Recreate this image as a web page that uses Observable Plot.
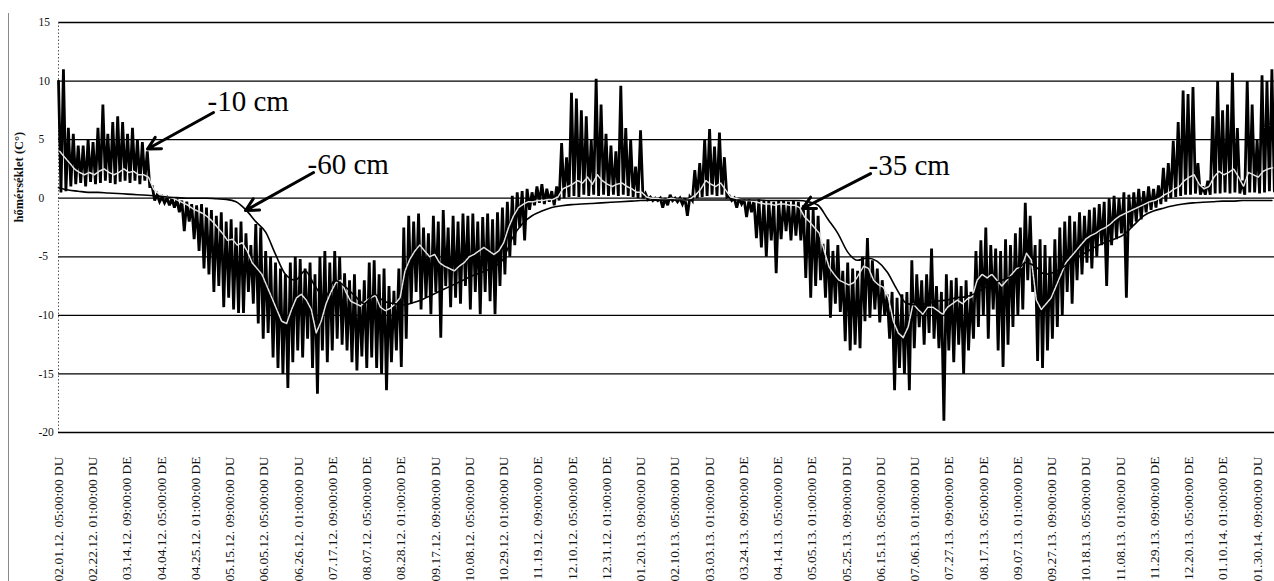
<!DOCTYPE html>
<html>
<head>
<meta charset="utf-8">
<script src="https://cdn.jsdelivr.net/npm/d3@7"></script>
<script src="https://cdn.jsdelivr.net/npm/@observablehq/plot@0.6"></script>
<style>
  body { margin: 0; background: #fff; }
  #wrap { position: relative; width: 1274px; height: 581px; overflow: hidden; }
  #edge { position: absolute; left: 8px; top: 13px; width: 1px; bottom: 0; background: #8a8a8a; }
  #chart { position: absolute; left: 0; top: 0; }
  #chart svg, #chart svg text { font-family: "Liberation Serif", "Times New Roman", "DejaVu Serif", serif !important; }
</style>
</head>
<body>
<div id="wrap"><div id="edge"></div><div id="chart"></div></div>
<script>
// Soil temperature at three depths, sampled every 72 hours (hi/lo swing of the -10 cm probe).
const stepHours = 72;
const tickStepHours = 500;

const tickLabels = [
  "02.01.12. 05:00:00 DU", "02.22.12. 01:00:00 DU", "03.14.12. 09:00:00 DE", "04.04.12. 05:00:00 DE",
  "04.25.12. 01:00:00 DE", "05.15.12. 09:00:00 DU", "06.05.12. 05:00:00 DU", "06.26.12. 01:00:00 DU",
  "07.17.12. 09:00:00 DE", "08.07.12. 05:00:00 DE", "08.28.12. 01:00:00 DE", "09.17.12. 09:00:00 DU",
  "10.08.12. 05:00:00 DU", "10.29.12. 01:00:00 DU", "11.19.12. 09:00:00 DE", "12.10.12. 05:00:00 DE",
  "12.31.12. 01:00:00 DE", "01.20.13. 09:00:00 DU", "02.10.13. 05:00:00 DU", "03.03.13. 01:00:00 DU",
  "03.24.13. 09:00:00 DE", "04.14.13. 05:00:00 DE", "05.05.13. 01:00:00 DE", "05.25.13. 09:00:00 DU",
  "06.15.13. 05:00:00 DU", "07.06.13. 01:00:00 DU", "07.27.13. 09:00:00 DE", "08.17.13. 05:00:00 DE",
  "09.07.13. 01:00:00 DE", "09.27.13. 09:00:00 DU", "10.18.13. 05:00:00 DU", "11.08.13. 01:00:00 DU",
  "11.29.13. 09:00:00 DE", "12.20.13. 05:00:00 DE", "01.10.14. 01:00:00 DE", "01.30.14. 09:00:00 DU"
];

const yTicks = [-20, -15, -10, -5, 0, 5, 10, 15];

// -10 cm: upper values of each 72 h window
const hi10 = [
  10, 11, 6, 5.5, 4.5, 4.5, 5, 4.8, 6, 8,
  5.5, 6.5, 7, 6.5, 5.5, 6, 5, 4.8, 4, 1,
  0.3, 0.1, 0, 0, -0.1, -0.2, -0.3, -0.5, -0.6, -0.5,
  -0.8, -1, -1.5, -1.2, -2, -1.8, -2.5, -2, -3, -4,
  -2.2, -2.5, -4.5, -5, -5.5, -6, -6.5, -5.5, -5, -5.2,
  -6, -5.5, -6.5, -5, -4.5, -5.5, -4.5, -5, -6.4, -7,
  -6.5, -7.8, -7, -5.5, -5.3, -6.5, -6, -7.5, -7.9, -6,
  -2.5, -1.5, -2, -1.3, -2.5, -3, -1.5, -2, -1, -2.5,
  -1.5, -2, -1.3, -1.5, -1.3, -2, -1.6, -1.3, -1.8, -1.2,
  -0.8, -0.3, 0.2, 0.5, 0.6, 0.8, 0.5, 1, 1.2, 0.8,
  0.6, 1, 4.7, 3.5, 9, 8.5, 7.5, 7, 5, 10.2,
  8, 5.5, 4.5, 4, 9.6, 6, 5, 2.7, 5.8, 0.4,
  0.1, 0, 0, 0, 0.3, 0, 0, 0, 0.1, 2.4,
  3, 5, 5.9, 4.4, 5.6, 3.5, 0.2, 0, 0, -0.1,
  -0.1, -0.2, -0.1, -0.2, -0.2, -0.3, -0.2, -0.2, -0.3, -0.2,
  -0.3, -0.6, -0.8, -1, -1.5, -3.9, -3.5, -4.5, -4, -6.2,
  -5.5, -6, -6.2, -5, -3.4, -5.3, -6, -7, -8.2, -8,
  -8.5, -8.2, -8, -5.3, -6.5, -7, -6.5, -4.3, -7.5, -8,
  -6.5, -7, -6.8, -7.5, -7, -8, -4.5, -3.6, -2.5, -4,
  -4.3, -4.5, -3.5, -4, -3, -2.5, -0.4, -1.5, -4, -3.5,
  -4, -5, -3.5, -2.5, -2, -1.5, -2, -1.2, -1.5, -1,
  -0.8, -0.5, -0.3, 0, 0.2, 0, 0.5, 0.3, 0.5, 0.8,
  0.6, 1, 0.8, 1.1, 2.6, 3, 4.9, 6.5, 9.2, 8.9,
  9.5, 3, 1, 1.5, 7, 10, 7.5, 8, 10.7, 6,
  1.5, 10, 8, 5, 10.5, 10, 11
];

// -10 cm: lower values of each 72 h window
const lo10 = [
  0.5, 0.6, 1, 1.2, 1.3, 1, 1.4, 1.2, 1.3, 1.5,
  1.3, 1.2, 1.4, 1.5, 1.3, 1.5, 1.2, 1.5, 1, -0.2,
  -0.3, -0.4, -0.6, -0.8, -1.2, -2.8, -2, -3.5, -4.5, -6,
  -6.5, -8, -7.5, -9.3, -8.5, -9.5, -9.8, -9.8, -8, -9,
  -10.7, -12, -11.5, -13.6, -14.5, -15, -16.2, -14, -13, -13.6,
  -12, -14.5, -16.7, -13, -14, -13, -12, -12.5, -13, -14,
  -14.7, -13.5, -14.5, -13.6, -14.5, -15, -16.4, -14, -13, -14.4,
  -12, -9, -8, -9.5, -8.5, -9.9, -8, -11.9, -7.5, -9.3,
  -8.5, -9, -7.5, -9.5, -8, -9.9, -8, -8.8, -9.9, -7.5,
  -6.5, -5, -4, -2.5, -3.6, -1, -0.6, -0.4, -0.5, -0.3,
  -0.6, -0.2, 0, 0.1, 0.2, 0.1, 0.3, 0.2, 0.3, 0.2,
  0.3, 0.2, 0.3, 0.2, 0.3, 0.2, 0.1, 0, 0, -0.1,
  -0.2, -0.2, -0.8, -0.6, -0.2, -0.3, -0.5, -1.5, -0.2, 0,
  0.1, 0.2, 0.3, 0.2, 0.3, 0.1, -0.2, -0.8, -0.5, -1.6,
  -1.2, -3.4, -4.2, -5, -3.6, -6.4, -3.5, -2.8, -3.6, -3.2,
  -3.6, -6.8, -8.5, -7.5, -7, -8.5, -10.2, -9, -9.7, -12.2,
  -13, -12.5, -12.8, -10.5, -10.2, -9.5, -10.6, -10, -12, -16.4,
  -14.5, -15, -16.4, -12.8, -11, -12.5, -11.5, -12, -12.8, -19,
  -13, -14, -12.5, -15, -13, -12, -11, -10, -12, -9.5,
  -13, -14.4, -12.5, -11, -10, -9.5, -7, -8, -13.9, -14.5,
  -13, -12, -11, -10, -8, -9, -7, -6.5, -5.5, -6,
  -5, -4, -7.5, -4, -3.5, -3, -8.5, -2.5, -2, -1.8,
  -1.2, -1, -0.8, -0.5, -0.3, 0, 0.1, 0.2, 0.3, 0.3,
  0.4, 0.3, 0.3, 0.3, 0.4, 0.4, 0.5, 0.4, 0.5, 0.4,
  0.3, 0.5, 0.5, 0.4, 0.5, 0.6, 0.6
];

// -35 cm, one value per 72 h window
const mid35 = [
  4, 3.5, 3, 2.5, 2.2, 2, 2.2, 2, 2.3, 2.5,
  2.2, 2, 2.2, 2.5, 2.2, 2.3, 2, 2, 1.8, 0.8,
  0.4, 0.2, 0.1, 0, -0.2, -0.4, -0.6, -0.9, -1.1, -1.3,
  -1.6, -2, -2.5, -3, -3.6, -3.5, -4, -3.8, -4.5, -5.5,
  -6, -6.5, -7.5, -8.5, -9.5, -10.5, -10.7, -9.5, -8.5, -8.2,
  -8.7, -9.5, -11.5, -10.5, -9, -8, -7.2, -7, -8, -8.8,
  -9, -9.2, -8.8, -8.5, -8.3, -9.3, -9.6, -9.4, -9, -8.5,
  -6.2, -5.2, -4.5, -4, -4.5, -5, -4.8, -5.5, -5.8, -6,
  -6.2, -5.8, -5.5, -5, -4.8, -4.5, -4.2, -4.5, -4.8, -4.5,
  -3.8, -2.5, -1.5, -0.8, -0.5, -0.3, -0.3, -0.2, -0.2, -0.1,
  -0.1, 0.1, 0.8, 1, 1.2, 1.5, 1.3, 1.8, 1.2, 2,
  1.5, 1.2, 1, 1.2, 1.3, 1, 0.8, 0.5, 0.5, 0.1,
  0, 0, -0.1, -0.1, 0, -0.1, -0.1, -0.2, 0, 0.3,
  0.8, 1.5, 1.2, 1, 1.3, 0.7, 0.1, 0, -0.1, -0.2,
  -0.2, -0.3, -0.4, -0.5, -0.5, -0.6, -0.5, -0.5, -0.6, -0.6,
  -0.8, -1.6, -2, -2.5, -3, -4.5, -5.9, -6.5, -7, -7.2,
  -7.4, -7.2, -6.5, -5.8, -6, -7, -7.4, -7.6, -8.5, -10.5,
  -11.5, -11.9, -11, -9, -9.5, -9.9, -9.3, -9.3, -9.6, -9.9,
  -9.3, -9, -8.7, -9, -8.6, -8.4, -7, -6.5, -6.8, -6.5,
  -7, -7.5, -7, -6.5, -6, -5.9, -4.7, -5.3, -8.7, -9.5,
  -9, -8.5, -7.5, -6.5, -5.5, -5, -4.5, -4, -3.5, -3.2,
  -3, -2.7, -2.5, -2.2, -1.8, -1.5, -1.3, -1.1, -0.9, -0.7,
  -0.5, -0.3, -0.2, 0, 0.3, 0.5, 0.8, 1, 1.5, 1.8,
  2, 1.2, 0.8, 1, 1.8, 2.3, 2, 2.2, 2.5, 1.8,
  1, 2.2, 2, 1.8, 2.3, 2.5, 2.6
];

// -60 cm, one value per 144 h
const line60 = [
  0.9, 0.7, 0.6, 0.5, 0.5, 0.45, 0.4, 0.35, 0.3, 0.25,
  0.2, 0.1, 0.05, 0, 0, 0, -0.05, -0.1, -0.3, -1,
  -2, -2.9, -4.8, -6.5, -7, -6.2, -7.5, -8.5, -7, -7.5,
  -8.3, -9, -8.2, -8.8, -9, -9.1, -8.9, -8.6, -8.2, -7.8,
  -7.4, -7, -6.6, -6.3, -5.9, -5.3, -3.4, -2.2, -1.5, -1.1,
  -0.8, -0.65, -0.55, -0.5, -0.45, -0.4, -0.35, -0.3, -0.25, -0.2,
  -0.18, -0.16, -0.15, -0.15, -0.15, -0.15, -0.15, -0.15, -0.15, -0.15,
  -0.15, -0.15, -0.2, -0.2, -0.2, -0.2, -0.3, -0.6, -1.8, -3,
  -4.6, -5.3, -5.1, -5.4, -6.3, -7.8, -9, -9.1, -9, -8.8,
  -8.7, -8.5, -8.4, -8.1, -7.6, -7.2, -6.9, -6.5, -5.5, -5.8,
  -6.5, -6.3, -5.8, -5.2, -4.7, -4.2, -3.8, -3.5, -3.1, -2.3,
  -1.5, -1.1, -0.85, -0.65, -0.5, -0.4, -0.35, -0.3, -0.25, -0.25,
  -0.2, -0.2, -0.2, -0.2
];

// Callouts: label, text anchor (hours, °C) and arrow from/to (hours, °C)
const calloutLabels = ["-10 cm", "-60 cm", "-35 cm"];
const calloutText = [[2175, 8.27], [3635, 2.9], [11825, 2.8]];
const calloutArrow = [
  [2263, 7.32, 1299, 4.2],
  [3723, 2.19, 2730, -1.05],
  [11854, 2.1, 10861, -0.88]
];

// Build the mark tables
const series10 = hi10.flatMap((h, i) => [
  {t: i * stepHours, v: h},
  {t: i * stepHours + stepHours / 2, v: lo10[i]}
]);
const series35 = mid35.map((v, i) => ({t: i * stepHours + stepHours / 4, v}));
const series60 = line60.map((v, i) => ({t: i * stepHours * 2, v}));
const xTicks = tickLabels.map((_, i) => i * tickStepHours);
const callouts = calloutLabels.map((label, i) => ({
  label,
  tx: calloutText[i][0], ty: calloutText[i][1],
  x1: calloutArrow[i][0], y1: calloutArrow[i][1],
  x2: calloutArrow[i][2], y2: calloutArrow[i][3]
}));

const serif = "Liberation Serif";

const chart = Plot.plot({
  width: 1274,
  height: 640,
  marginLeft: 58,
  marginRight: 0,
  marginTop: 22,
  marginBottom: 208,
  style: {fontFamily: serif, background: "transparent", color: "#111", overflow: "visible"},
  x: {domain: [0, 17750], axis: null},
  y: {domain: [-20, 15], axis: null},
  marks: [
    Plot.ruleY(yTicks, {stroke: "#000", strokeWidth: 1.3}),
    Plot.ruleX([0], {stroke: "#555", strokeWidth: 1, strokeDasharray: "1.5,2"}),
    // -10 cm: raw daily swings
    Plot.line(series10, {x: "t", y: "v", stroke: "#000", strokeWidth: 2.8, strokeLinejoin: "miter", strokeMiterlimit: 3}),
    // -35 cm
    Plot.line(series35, {x: "t", y: "v", stroke: "#e4e4e4", strokeWidth: 1.5, strokeDasharray: "3,1"}),
    // -60 cm
    Plot.line(series60, {x: "t", y: "v", stroke: "#000", strokeWidth: 1.6, curve: "monotone-x"}),
    Plot.axisX({
      ticks: xTicks,
      tickFormat: d => tickLabels[Math.round(d / tickStepHours)],
      tickRotate: -90,
      tickSize: 0,
      tickPadding: 24,
      fontSize: 13.5,
      fontFamily: serif,
      label: null
    }),
    Plot.text(yTicks, {y: d => d, text: d => String(d), frameAnchor: "left", dx: -20, fontSize: 11.5, fontFamily: serif}),
    Plot.text(["hőmérséklet (C°)"], {frameAnchor: "left", dx: -40, dy: -5, rotate: -90, fontSize: 12.5, fontWeight: "bold", fontFamily: serif}),
    Plot.arrow(callouts, {x1: "x1", y1: "y1", x2: "x2", y2: "y2", stroke: "#000", strokeWidth: 3, headLength: 7, headAngle: 55}),
    Plot.text(callouts, {x: "tx", y: "ty", text: "label", textAnchor: "start", fontSize: 29, fill: "#000", fontFamily: serif})
  ]
});

document.getElementById("chart").appendChild(chart);
</script>
</body>
</html>
